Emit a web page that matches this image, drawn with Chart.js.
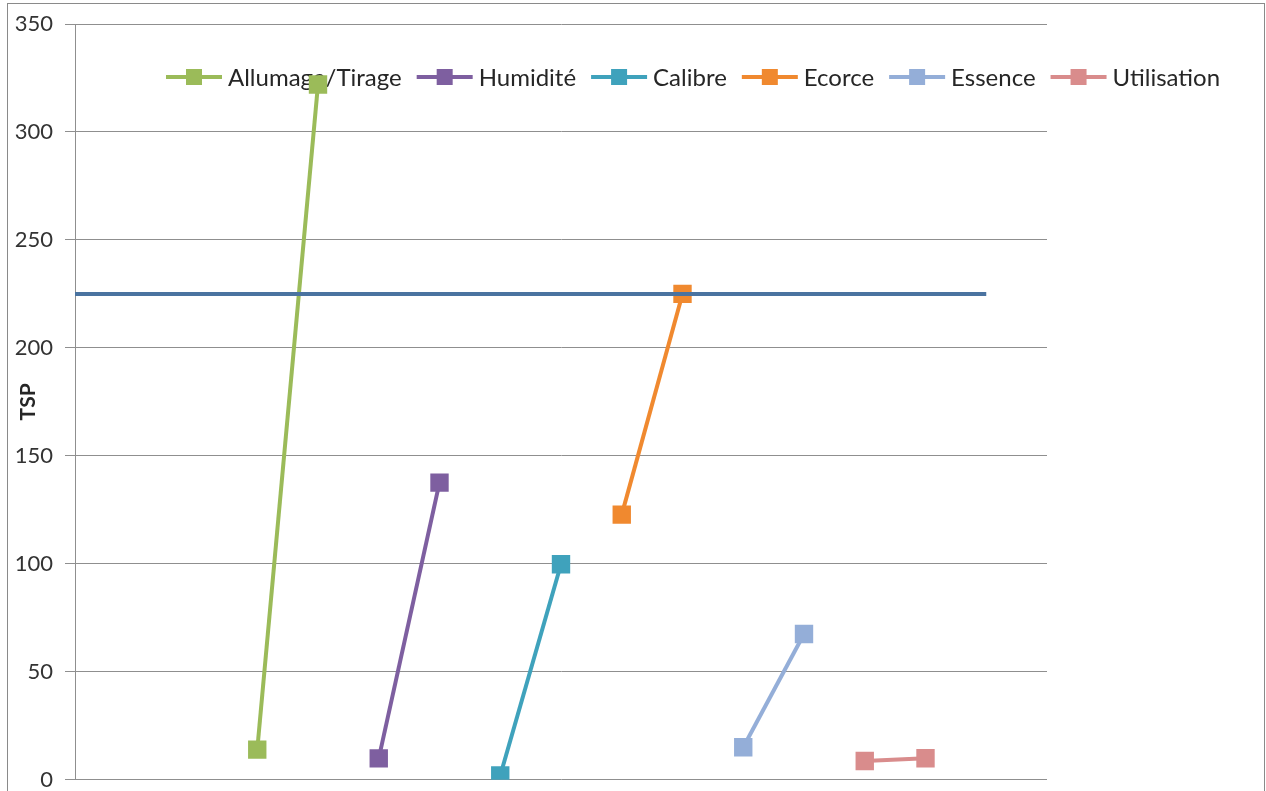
<!DOCTYPE html>
<html>
<head>
<meta charset="utf-8">
<script src="https://cdn.jsdelivr.net/npm/chart.js"></script>
<style>
  html, body { margin: 0; padding: 0; background: #fff; overflow: hidden; }
  #wrap { position: relative; width: 1266px; height: 809px; margin-top: -4px; }
</style>
</head>
<body>
<div id="wrap"><canvas id="tspChart"></canvas></div>
<script>
// ---------- data ----------
const seriesNames = ['Allumage/Tirage', 'Humidité', 'Calibre', 'Ecorce', 'Essence', 'Utilisation'];
const startX = [3, 5, 7, 9, 11, 13];
const endX = [4, 6, 8, 10, 12, 14];
const startValues = [14, 9.9, 2, 122.8, 15.1, 8.7];
const endValues = [322, 137.6, 99.8, 225, 67.5, 10];
const seriesColors = ['#9BBB59', '#7E5FA0', '#3FA2BC', '#F0892F', '#94AED8', '#D98C8C'];

const refLevel = 225;
const refX = [0, 15];
const yTicks = [0, 50, 100, 150, 200, 250, 300, 350];

const FONT = 'Lato, "Open Sans", sans-serif';
const GRID = '#8f8f8f';

/* ---------- DATASETS ---------- */

const datasets = seriesNames.map((name, i) => ({
  label: name,
  data: [
    { x: startX[i], y: startValues[i] },
    { x: endX[i], y: endValues[i] }
  ],
  showLine: true,
  borderColor: seriesColors[i],
  backgroundColor: seriesColors[i],
  borderWidth: 4,
  pointStyle: 'rect',
  pointRadius: 13,
  pointHoverRadius: 13,
  pointBorderWidth: 0
}));

datasets.unshift({
  label: 'TSP moyen',
  hideInLegend: true,
  data: refX.map(x => ({ x, y: refLevel })),
  showLine: true,
  borderColor: '#4A73A0',
  borderWidth: 4,
  pointRadius: 0,
  pointHoverRadius: 0
});

/* ---------- FRAME + LEGEND ---------- */

// canvas is shifted up 4px by the wrapper, so page y = canvas y - 4
const SHIFT = 4;

const framePlugin = {
  id: 'frame',
  beforeDraw(chart) {
    const ctx = chart.ctx;
    ctx.save();
    ctx.fillStyle = '#fff';
    ctx.fillRect(0, 0, chart.width, chart.height);
    ctx.strokeStyle = '#8a8a8a';
    ctx.lineWidth = 1;
    ctx.strokeRect(7.5, 3.5 + SHIFT, chart.width - 9, chart.height + 20);
    ctx.restore();
  }
};

const legendPlugin = {
  id: 'inlineLegend',
  beforeDatasetsDraw(chart) {
    const ctx = chart.ctx;
    let x = 166;
    const y = 77 + SHIFT;
    ctx.save();
    ctx.font = '24px ' + FONT;
    ctx.textBaseline = 'middle';
    chart.data.datasets.forEach(ds => {
      if (ds.hideInLegend) return;
      ctx.strokeStyle = ds.borderColor;
      ctx.lineWidth = 4;
      ctx.beginPath();
      ctx.moveTo(x, y);
      ctx.lineTo(x + 56, y);
      ctx.stroke();
      ctx.fillStyle = ds.borderColor;
      ctx.fillRect(x + 28 - 8, y - 8, 16, 16);
      ctx.fillStyle = '#262626';
      ctx.fillText(ds.label, x + 62, y + 1);
      x += 62 + ctx.measureText(ds.label).width + 15;
    });
    ctx.restore();
  }
};

new Chart(document.getElementById('tspChart'), {
  type: 'scatter',
  data: { datasets },
  plugins: [framePlugin, legendPlugin],
  options: {
    responsive: true,
    maintainAspectRatio: false,
    animation: false,
    layout: { padding: { top: 28, right: 219, bottom: 0, left: 0 } },
    plugins: {
      legend: { display: false },
      tooltip: { enabled: false }
    },
    scales: {
      x: {
        type: 'linear',
        min: 0,
        max: 16,
        display: false
      },
      y: {
        min: 0,
        max: 350,
        afterBuildTicks: scale => {
          scale.ticks = yTicks.map(v => ({ value: v }));
        },
        afterFit: scale => { scale.width = 75; },
        grid: {
          color: GRID,
          lineWidth: 1,
          tickLength: 10
        },
        border: { color: GRID, width: 1 },
        ticks: {
          color: '#333',
          padding: 12,
          font: { family: FONT, size: 22 }
        },
        title: {
          display: true,
          text: 'TSP',
          color: '#262626',
          font: { family: FONT, size: 21, weight: 'bold' },
          padding: { top: 16, bottom: 0 }
        }
      }
    }
  }
});
</script>
</body>
</html>
